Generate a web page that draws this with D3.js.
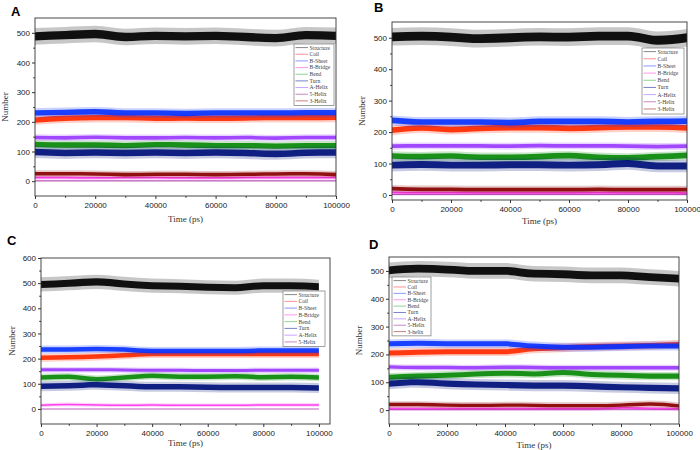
<!DOCTYPE html>
<html><head><meta charset="utf-8">
<script src="https://cdn.jsdelivr.net/npm/d3@7"></script>
<style>body{margin:0;background:#fff} svg{display:block}</style>
</head><body>
<svg id="chart" width="700" height="450"></svg>
<script>
// ---------- DATA ----------
const time = [0, 10000, 20000, 30000, 40000, 50000, 60000, 70000, 80000, 90000, 100000];
const seriesNames = ["Structure", "Coil", "B-Sheet", "B-Bridge", "Bend", "Turn", "A-Helix", "5-Helix", "3-Helix"];
const seriesNamesD = ["Structure", "Coil", "B-Sheet", "B-Bridge", "Bend", "Turn", "A-Helix", "5-Helix", "3-helix"];
const xTickValues = [0, 20000, 40000, 60000, 80000, 100000];
const yTickValues = [0, 100, 200, 300, 400, 500];
const yTickValuesC = [0, 100, 200, 300, 400, 500, 600];
// typical fluctuation (half-range) of each series: dense core and spikes
const coreSpread = [14, 9, 9, 3, 9, 11, 6, 1, 6];
const spikeSpread = [28, 16, 16, 7, 15, 20, 11, 3, 12];

// Panel A
const A_structure = [488, 492, 496, 486, 490, 488, 490, 486, 482, 492, 490];
const A_coil      = [206, 212, 214, 214, 212, 213, 212, 213, 214, 214, 215];
const A_bsheet    = [230, 232, 234, 230, 230, 228, 230, 230, 230, 231, 231];
const A_bbridge   = [12, 12, 11, 12, 12, 11, 11, 12, 12, 12, 12];
const A_bend      = [124, 122, 122, 120, 123, 122, 120, 120, 118, 120, 120];
const A_turn      = [98, 95, 97, 95, 97, 95, 97, 95, 92, 96, 97];
const A_ahelix    = [147, 146, 148, 146, 146, 147, 146, 147, 145, 147, 147];
const A_5helix    = [1, 1, 1, 1, 1, 1, 1, 1, 1, 1, 1];
const A_3helix    = [25, 25, 24, 22, 23, 23, 22, 23, 24, 25, 22];

// Panel B
const B_structure = [503, 505, 502, 497, 500, 503, 502, 505, 505, 492, 500];
const B_coil      = [206, 213, 208, 212, 214, 214, 212, 214, 216, 216, 213];
const B_bsheet    = [237, 232, 232, 232, 230, 234, 234, 234, 232, 234, 235];
const B_bbridge   = [8, 7, 7, 7, 7, 7, 7, 7, 7, 7, 6];
const B_bend      = [124, 122, 124, 120, 120, 122, 125, 120, 118, 122, 126];
const B_turn      = [95, 97, 95, 95, 96, 96, 95, 96, 100, 92, 92];
const B_ahelix    = [155, 156, 156, 156, 155, 157, 156, 156, 155, 154, 155];
const B_5helix    = [1, 1, 1, 1, 1, 1, 1, 1, 1, 1, 1];
const B_3helix    = [20, 18, 18, 17, 17, 17, 17, 18, 17, 17, 17];

// Panel C
const C_structure = [495, 500, 505, 497, 490, 488, 484, 482, 490, 490, 486];
const C_coil      = [203, 205, 208, 213, 218, 218, 218, 218, 218, 218, 218];
const C_bsheet    = [236, 236, 238, 236, 230, 230, 230, 230, 232, 232, 232];
const C_bbridge   = [15, 18, 16, 15, 16, 15, 15, 15, 16, 16, 16];
const C_bend      = [125, 128, 118, 125, 132, 128, 128, 130, 126, 128, 125];
const C_turn      = [90, 92, 96, 92, 88, 88, 86, 85, 85, 85, 83];
const C_ahelix    = [156, 156, 156, 155, 154, 154, 153, 153, 154, 154, 154];
const C_5helix    = [0, 0, 0, 0, 0, 0, 0, 0, 0, 0, 0];

// Panel D
const D_structure = [502, 508, 505, 500, 500, 490, 488, 484, 484, 478, 472];
const D_coil      = [205, 208, 210, 210, 210, 220, 224, 228, 230, 232, 236];
const D_bsheet    = [238, 240, 238, 238, 238, 230, 226, 226, 228, 230, 230];
const D_bbridge   = [5, 5, 5, 5, 5, 5, 5, 5, 8, 6, 5];
const D_bend      = [118, 122, 125, 130, 132, 130, 135, 128, 125, 122, 122];
const D_turn      = [95, 100, 95, 92, 90, 88, 88, 85, 82, 80, 78];
const D_ahelix    = [155, 153, 153, 152, 154, 153, 152, 152, 152, 152, 152];
const D_5helix    = [1, 1, 1, 1, 1, 1, 1, 1, 1, 1, 1];
const D_3helix    = [20, 20, 18, 17, 18, 17, 16, 16, 18, 22, 15];

// ---------- STYLE ----------
const colors = ["#000000", "#ff2a00", "#0a32ff", "#ff33ee", "#0a8a0a", "#00107a", "#9a3cff", "#a020a0", "#8a0000"];
const legendColors = ["#888888", "#ff9090", "#8a9aff", "#ff99f0", "#8fd58f", "#7a82c8", "#c8a4ff", "#c888c8", "#c88080"];

const panels = [
  {letter: "A", lx: 11, ly: 16, l: 35, r: 336, t: 18, b: 196, yd: [-50, 550], xd: [0, 100000], yt: yTickValues,
   data: [A_structure, A_coil, A_bsheet, A_bbridge, A_bend, A_turn, A_ahelix, A_5helix, A_3helix], names: seriesNames,
   ylx: 8, xly: 222, leg: {x: 294, y: 44, w: 40, gap: 6.66, n: 9}},
  {letter: "B", lx: 374, ly: 12, l: 392, r: 687, t: 22, b: 200, yd: [-16, 550], xd: [0, 100000], yt: yTickValues,
   data: [B_structure, B_coil, B_bsheet, B_bbridge, B_bend, B_turn, B_ahelix, B_5helix, B_3helix], names: seriesNames,
   ylx: 365, xly: 224, leg: {x: 642, y: 48, w: 42, gap: 7.17, n: 9}},
  {letter: "C", lx: 7, ly: 245, l: 41, r: 330, t: 258, b: 424, yd: [-60, 600], xd: [0, 104000], yt: yTickValuesC,
   data: [C_structure, C_coil, C_bsheet, C_bbridge, C_bend, C_turn, C_ahelix, C_5helix], names: seriesNames.slice(0, 8),
   ylx: 15, xly: 446, leg: {x: 283, y: 291, w: 42, gap: 6.76, n: 8}},
  {letter: "D", lx: 369, ly: 249, l: 389, r: 679, t: 257, b: 424, yd: [-50, 550], xd: [0, 100000], yt: yTickValues,
   data: [D_structure, D_coil, D_bsheet, D_bbridge, D_bend, D_turn, D_ahelix, D_5helix, D_3helix], names: seriesNamesD,
   ylx: 362, xly: 448, leg: {x: 392, y: 277, w: 39, gap: 6.375, n: 9}}
];

const svg = d3.select("#chart");
const serif = "'Liberation Serif','DejaVu Serif',serif";
const sans = "'Liberation Sans',Arial,sans-serif";

panels.forEach((p, pi) => {
  const g = svg.append("g");
  const x = d3.scaleLinear().domain(p.xd).range([p.l, p.r]);
  const y = d3.scaleLinear().domain(p.yd).range([p.b, p.t]);
  const clipId = "clip" + pi;
  svg.append("clipPath").attr("id", clipId).append("rect")
    .attr("x", p.l).attr("y", p.t).attr("width", p.r - p.l).attr("height", p.b - p.t);

  const plot = g.append("g").attr("clip-path", `url(#${clipId})`);
  p.data.forEach((arr, i) => {
    const pts = time.map((t, k) => ({t, v: arr[k]}));
    const outer = d3.area().curve(d3.curveMonotoneX)
      .x(d => x(d.t)).y0(d => y(d.v - spikeSpread[i])).y1(d => y(d.v + spikeSpread[i]));
    const inner = d3.area().curve(d3.curveMonotoneX)
      .x(d => x(d.t)).y0(d => y(d.v - coreSpread[i])).y1(d => y(d.v + coreSpread[i]));
    plot.append("path").datum(pts).attr("d", outer).attr("fill", colors[i]).attr("opacity", 0.22);
    plot.append("path").datum(pts).attr("d", inner).attr("fill", colors[i]).attr("opacity", 0.92);
  });

  // axes
  const yAxis = d3.axisLeft(y).tickValues(p.yt).tickSize(3).tickPadding(2).tickFormat(d3.format("d"));
  const xAxis = d3.axisBottom(x).tickValues(xTickValues).tickSize(3).tickPadding(3).tickFormat(d3.format("d"));
  const ya = g.append("g").attr("transform", `translate(${p.l},0)`).call(yAxis);
  const xa = g.append("g").attr("transform", `translate(0,${p.b})`).call(xAxis);
  // minor ticks
  const yMinor = d3.axisLeft(y).tickValues(p.yt.map(v => v + 50).filter(v => v < p.yd[1])).tickSize(1.8).tickFormat("");
  const xMinor = d3.axisBottom(x).tickValues(xTickValues.map(v => v + 10000).filter(v => v < p.xd[1])).tickSize(1.8).tickFormat("");
  g.append("g").attr("transform", `translate(${p.l},0)`).call(yMinor).select(".domain").remove();
  g.append("g").attr("transform", `translate(0,${p.b})`).call(xMinor).select(".domain").remove();
  g.selectAll(".tick line").attr("stroke", "#333");
  [ya, xa].forEach(a => {
    a.select(".domain").remove();
    a.selectAll("text").attr("font-family", sans).attr("font-size", 8).attr("fill", "#222");
  });
  // frame
  g.append("rect").attr("x", p.l).attr("y", p.t).attr("width", p.r - p.l).attr("height", p.b - p.t)
    .attr("fill", "none").attr("stroke", "#333").attr("stroke-width", 0.9);

  // titles
  g.append("text").attr("x", (p.l + p.r) / 2).attr("y", p.xly).attr("text-anchor", "middle")
    .attr("font-family", serif).attr("font-size", 9).attr("fill", "#333").text("Time (ps)");
  g.append("text").attr("transform", `translate(${p.ylx},${(p.t + p.b) / 2}) rotate(-90)`).attr("text-anchor", "middle")
    .attr("font-family", serif).attr("font-size", 9).attr("fill", "#333").text("Number");
  g.append("text").attr("x", p.lx).attr("y", p.ly).attr("font-family", sans).attr("font-weight", "bold")
    .attr("font-size", 13).attr("fill", "#000").text(p.letter);

  // legend
  const L = p.leg;
  const lg = g.append("g");
  lg.append("rect").attr("x", L.x).attr("y", L.y).attr("width", L.w).attr("height", L.gap * L.n + 1.5)
    .attr("fill", "#fff").attr("stroke", "#777").attr("stroke-width", 0.7);
  p.names.forEach((name, i) => {
    const yy = L.y + 3.6 + i * L.gap;
    lg.append("line").attr("x1", L.x + 1.5).attr("x2", L.x + 14).attr("y1", yy).attr("y2", yy)
      .attr("stroke", legendColors[i]).attr("stroke-width", 1);
    lg.append("text").attr("x", L.x + 15.5).attr("y", yy + 1.9).attr("font-family", serif)
      .attr("font-size", 5.6).attr("fill", "#444").text(name);
  });
});
</script>
</body></html>
